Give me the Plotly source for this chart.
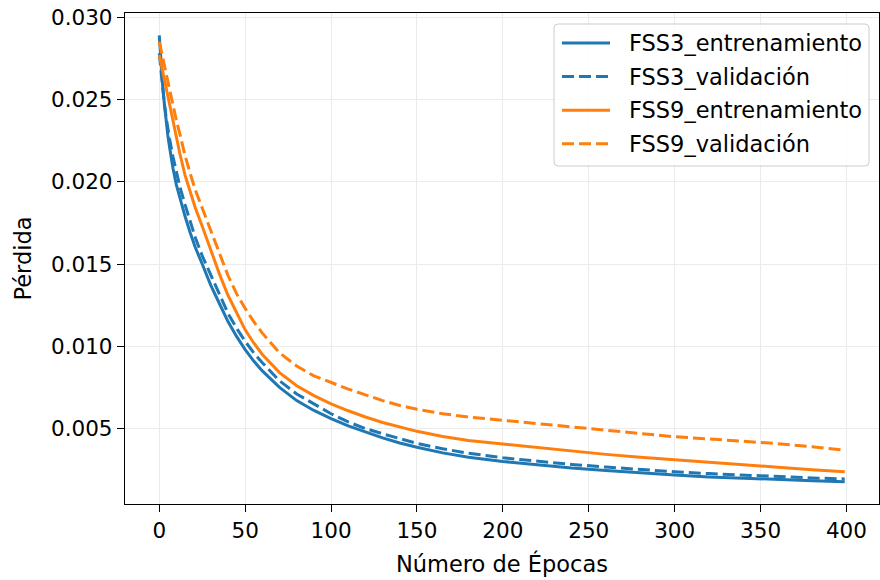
import plotly.graph_objects as go

epochs = [0, 1, 2, 3, 4, 5, 6, 8, 10, 12, 15, 18, 21, 25, 30, 35, 40, 45, 50, 55, 60,
          70, 80, 90, 100, 110, 120, 130, 140, 150, 165, 180, 200, 220, 240, 260, 280,
          300, 320, 340, 360, 380, 399]

fss3_train = [0.0289, 0.0270, 0.0258, 0.0247, 0.0236, 0.0228, 0.0221, 0.0208, 0.0198,
              0.0190, 0.0179, 0.0169, 0.0160, 0.0150, 0.0137, 0.0126, 0.0115, 0.0106,
              0.0098, 0.0091, 0.0085, 0.0075, 0.0067, 0.0061, 0.0056, 0.00516, 0.00478,
              0.00443, 0.00412, 0.00386, 0.00352, 0.00325, 0.00300, 0.00278, 0.00260, 0.00245,
              0.00230, 0.00217, 0.00206, 0.00197, 0.00190, 0.00183, 0.00177]

fss3_val = [0.0278, 0.0266, 0.0256, 0.0247, 0.0239, 0.0232, 0.0226, 0.0215, 0.0205,
            0.0197, 0.0186, 0.0176, 0.0166, 0.0155, 0.0143, 0.0131, 0.0120, 0.0111,
            0.0103, 0.0096, 0.0090, 0.0079, 0.0071, 0.0065, 0.0059, 0.0054, 0.0050,
            0.00468, 0.00437, 0.00410, 0.00377, 0.00350, 0.00322, 0.00300, 0.00282, 0.00266,
            0.00251, 0.00237, 0.00226, 0.00216, 0.00207, 0.00200, 0.00194]

fss9_train = [0.0277, 0.0272, 0.0266, 0.0261, 0.0255, 0.0250, 0.0245, 0.0235, 0.0225,
              0.0217, 0.0204, 0.0194, 0.0184, 0.0173, 0.0158, 0.0144, 0.0131, 0.0120,
              0.0110, 0.0102, 0.0095, 0.0084, 0.0076, 0.0070, 0.0065, 0.00608, 0.00570,
              0.00537, 0.00508, 0.00483, 0.00452, 0.00428, 0.00406, 0.00384, 0.00363, 0.00343,
              0.00325, 0.00309, 0.00294, 0.00280, 0.00265, 0.00250, 0.00237]

fss9_val = [0.0285, 0.0280, 0.0275, 0.0270, 0.0265, 0.0260, 0.0255, 0.0246, 0.0237,
            0.0229, 0.0216, 0.0205, 0.0195, 0.0184, 0.0170, 0.0156, 0.0143, 0.0132,
            0.0123, 0.0115, 0.0108, 0.0096, 0.0088, 0.0082, 0.0078, 0.0074, 0.00705,
            0.0067, 0.0064, 0.00617, 0.0059, 0.0057, 0.0055, 0.0053, 0.0051, 0.0049,
            0.0047, 0.0045, 0.00437, 0.00423, 0.00408, 0.00390, 0.00368]

series_names = ["FSS3_entrenamiento", "FSS3_validación", "FSS9_entrenamiento", "FSS9_validación"]
x_ticks = [0, 50, 100, 150, 200, 250, 300, 350, 400]
y_ticks = [0.005, 0.010, 0.015, 0.020, 0.025, 0.030]

BLUE = "#1f77b4"
ORANGE = "#ff7f0e"
FONT = "DejaVu Sans"
FS = 21.5
LEG_FS = 22.5
DASH = "12px,5px"

W, H = 880, 580
ML, MR, MT, MB = 125, 1, 13, 76
PW, PH = W - ML - MR, H - MT - MB


def px(xp):
    return (xp - ML) / PW


def py(yp):
    return (H - MB - yp) / PH


fig = go.Figure()
styles = [(BLUE, "solid"), (BLUE, DASH), (ORANGE, "solid"), (ORANGE, DASH)]
all_series = [fss3_train, fss3_val, fss9_train, fss9_val]
for name, ys, (col, dash) in zip(series_names, all_series, styles):
    fig.add_trace(go.Scatter(x=epochs, y=ys, mode="lines", name=name, showlegend=False,
                             line=dict(color=col, width=3, dash=dash)))

ymin = min(min(s) for s in all_series)
ymax = max(max(s) for s in all_series)
ypad = 0.05 * (ymax - ymin)
xpad = 0.05 * (epochs[-1] - epochs[0])

# custom legend (matplotlib style)
lx0, lx1, ly0, ly1, r = 554, 869, 24, 166, 4
rx, ry = r / PW, r / PH
X0, X1, Y0, Y1 = px(lx0), px(lx1), py(ly0), py(ly1)
path = (f"M{X0 + rx},{Y0} L{X1 - rx},{Y0} Q{X1},{Y0} {X1},{Y0 - ry} "
        f"L{X1},{Y1 + ry} Q{X1},{Y1} {X1 - rx},{Y1} "
        f"L{X0 + rx},{Y1} Q{X0},{Y1} {X0},{Y1 + ry} "
        f"L{X0},{Y0 - ry} Q{X0},{Y0} {X0 + rx},{Y0} Z")
shapes = [dict(type="path", path=path, xref="paper", yref="paper",
               fillcolor="rgba(255,255,255,0.8)", line=dict(color="#cccccc", width=1))]
annotations = []
rows = [43, 76.6, 110.2, 143.8]
for name, (col, dash), ry_ in zip(series_names, styles, rows):
    shapes.append(dict(type="line", xref="paper", yref="paper",
                       x0=px(562), x1=px(610), y0=py(ry_), y1=py(ry_),
                       line=dict(color=col, width=3, dash=dash)))
    annotations.append(dict(text=name, xref="paper", yref="paper", x=px(627), y=py(ry_),
                            xanchor="left", yanchor="middle", showarrow=False,
                            font=dict(family=FONT, size=LEG_FS, color="black")))

annotations += [
    dict(text="Número de Épocas", xref="paper", yref="paper", x=0.5, y=py(563),
         xanchor="center", yanchor="middle", showarrow=False,
         font=dict(family=FONT, size=LEG_FS)),
    dict(text="Pérdida", xref="paper", yref="paper", x=px(22), y=0.5,
         xanchor="center", yanchor="middle", showarrow=False, textangle=-90,
         font=dict(family=FONT, size=LEG_FS)),
]

fig.update_layout(
    width=W, height=H,
    margin=dict(l=ML, r=MR, t=MT, b=MB),
    paper_bgcolor="white", plot_bgcolor="white",
    font=dict(family=FONT, size=FS, color="black"),
    showlegend=False,
    xaxis=dict(range=[epochs[0] - xpad, epochs[-1] + xpad], tickvals=x_ticks,
               ticktext=[str(t) for t in x_ticks],
               showgrid=True, gridcolor="#ebebeb", gridwidth=1, zeroline=False,
               showline=True, linecolor="black", linewidth=1.3, mirror=True,
               ticks="outside", ticklen=7, tickwidth=1.3, tickcolor="black",
               tickfont=dict(family=FONT, size=FS)),
    yaxis=dict(range=[ymin - ypad, ymax + ypad], tickvals=y_ticks, tickformat=".3f",
               showgrid=True, gridcolor="#ebebeb", gridwidth=1, zeroline=False,
               showline=True, linecolor="black", linewidth=1.3, mirror=True,
               ticks="outside", ticklen=7, tickwidth=1.3, tickcolor="black",
               tickfont=dict(family=FONT, size=FS)),
    shapes=shapes,
    annotations=annotations,
)

fig.write_html("out.html", config={"displayModeBar": False},
               post_script="document.body.style.margin='0';document.body.style.overflow='hidden';")
